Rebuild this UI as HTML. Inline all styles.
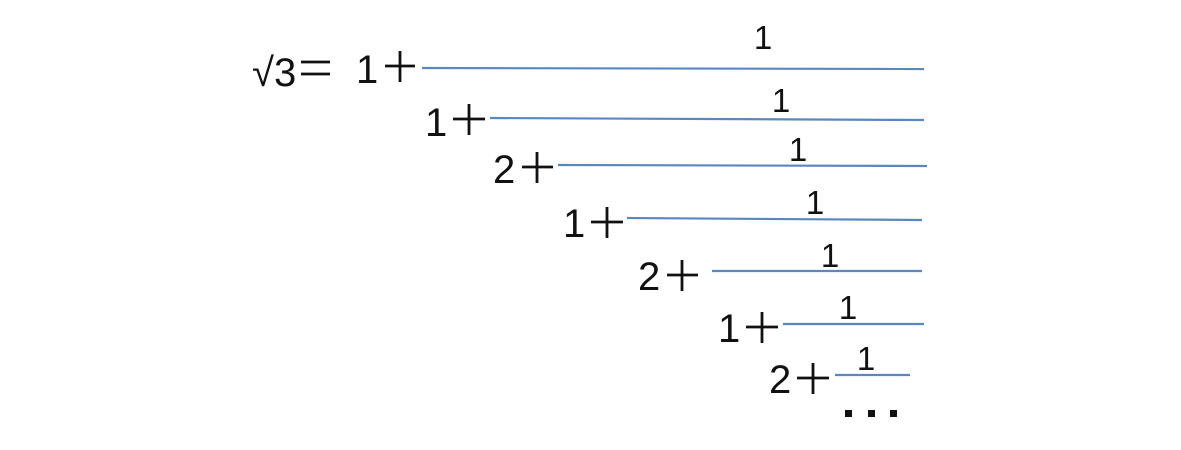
<!DOCTYPE html>
<html><head><meta charset="utf-8"><style>
html,body{margin:0;padding:0;background:#fff;}
svg{display:block}
text{font-family:"Liberation Sans",sans-serif;fill:#111;}
</style></head><body>
<svg width="1181" height="450" viewBox="0 0 1181 450" xmlns="http://www.w3.org/2000/svg">
<g stroke="#5b87c0" stroke-width="2.2">
<line x1="422" y1="68" x2="924" y2="69"/>
<line x1="490" y1="118" x2="924" y2="120"/>
<line x1="558" y1="165" x2="927" y2="166"/>
<line x1="627" y1="218" x2="922" y2="220"/>
<line x1="712" y1="271" x2="922" y2="271"/>
<line x1="783" y1="324" x2="924" y2="324"/>
<line x1="835" y1="375" x2="910" y2="375"/>
</g>
<g font-size="33" text-anchor="middle">
<text x="763" y="49">1</text>
<text x="781" y="112">1</text>
<text x="798" y="161">1</text>
<text x="815" y="214">1</text>
<text x="830" y="267">1</text>
<text x="848" y="319">1</text>
<text x="866" y="370">1</text>
</g>
<g font-size="40">
<text x="252" y="86" font-size="40">√3</text>
<text x="356" y="83">1</text>
<text x="425" y="136">1</text>
<text x="493" y="183">2</text>
<text x="563" y="237">1</text>
<text x="638" y="290">2</text>
<text x="718" y="342">1</text>
<text x="769" y="393">2</text>
</g>
<g stroke="#111" stroke-width="2.8">
<line x1="301" y1="62" x2="330" y2="62"/><line x1="301" y1="74" x2="330" y2="74"/>
<line x1="385" y1="66" x2="415" y2="66"/><line x1="400" y1="51" x2="400" y2="82"/>
<line x1="453" y1="119" x2="485" y2="119"/><line x1="469" y1="104" x2="469" y2="135"/>
<line x1="522" y1="167" x2="553" y2="167"/><line x1="537" y1="152" x2="537" y2="183"/>
<line x1="591" y1="222" x2="623" y2="222"/><line x1="607" y1="207" x2="607" y2="238"/>
<line x1="667" y1="275" x2="698" y2="275"/><line x1="682" y1="260" x2="682" y2="291"/>
<line x1="746" y1="327" x2="778" y2="327"/><line x1="762" y1="312" x2="762" y2="343"/>
<line x1="797" y1="378" x2="829" y2="378"/><line x1="813" y1="363" x2="813" y2="394"/>
</g>
<g fill="#111">
<rect x="845" y="410" width="7" height="7"/>
<rect x="868" y="410" width="7" height="7"/>
<rect x="890" y="410" width="7" height="7"/>
</g>
</svg>
</body></html>
